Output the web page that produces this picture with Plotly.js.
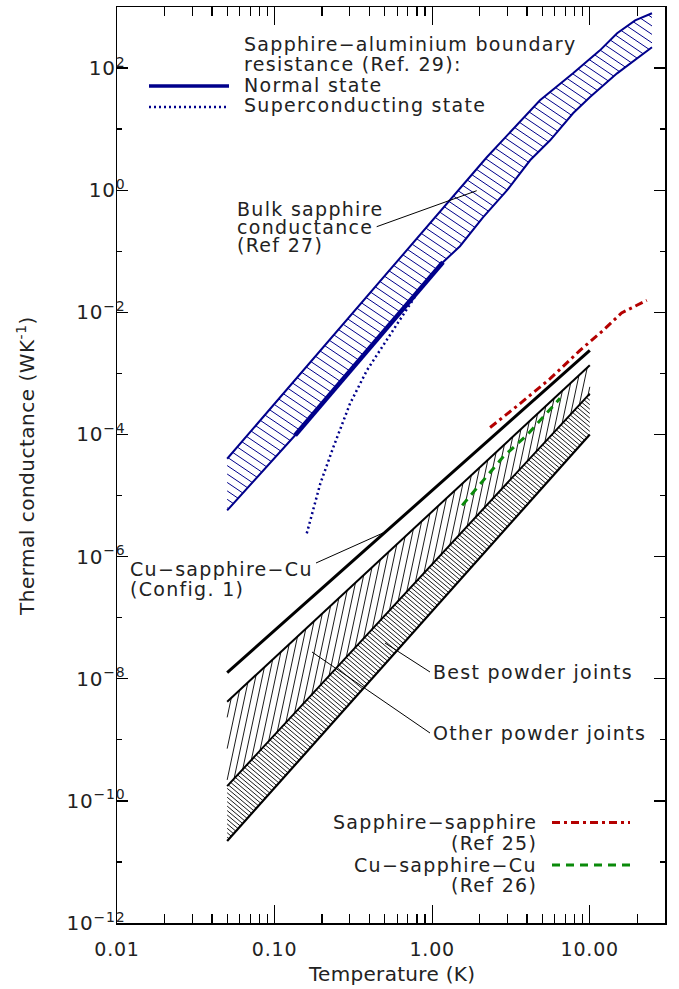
<!DOCTYPE html>
<html>
<head>
<meta charset="utf-8">
<script src="https://cdn.plot.ly/plotly-3.0.1.min.js"></script>
<style>
  html, body { margin: 0; padding: 0; background: #fff; }
  #chart { width: 679px; height: 989px; }
  .annotation-text { letter-spacing: 1.3px; }
  .xtick text, .ytick text { letter-spacing: 0.8px; }
</style>
</head>
<body>
<div id="chart"></div>
<script>
// ---------------- data ----------------
// Bulk sapphire conductance (Ref 27) band
const bulkUpperT = [0.05, 0.88, 2.22, 4.83, 7.83, 11.6, 14.9, 19.4, 24.8];
const bulkUpperG = [4.0e-5, 0.22, 3.46, 29.7, 82, 195, 371, 605, 789];
const bulkLowerT = [0.05, 0.135, 1.17, 1.50, 2.10, 2.99, 4.18, 5.60, 7.83, 10.0, 14.9, 20.0, 24.8];
const bulkLowerG = [5.7e-6, 9.7e-5, 0.066, 0.121, 0.36, 1.0, 3.09, 6.56, 18.2, 33.3, 82, 145, 219];

// Sapphire-aluminium boundary resistance (Ref. 29)
const normalT = [0.135, 0.405, 1.17];
const normalG = [9.7e-5, 2.7e-3, 0.066];
const superT = [0.160, 0.195, 0.236, 0.301, 0.385, 0.515, 0.656, 0.798];
const superG = [2.4e-6, 1.57e-5, 6.2e-5, 3.2e-4, 1.12e-3, 3.5e-3, 9.5e-3, 0.020];

// Cu-sapphire-Cu (Config. 1)
const config1T = [0.05, 10];
const config1G = [1.26e-8, 2.39e-3];

// Powder joints
const bestUpperT = [0.05, 10];
const bestUpperG = [4.2e-9, 1.36e-3];
const otherUpperT = [0.05, 10];
const otherUpperG = [1.74e-10, 4.67e-4];
const otherLowerT = [0.05, 10];
const otherLowerG = [2.2e-11, 1.0e-4];

// Sapphire-sapphire (Ref 25)
const ref25T = [2.33, 3.61, 5.60, 8.67, 12.2, 15.9, 23.0];
const ref25G = [1.30e-4, 3.2e-4, 8.2e-4, 2.39e-3, 5.1e-3, 9.8e-3, 0.0157];

// Cu-sapphire-Cu (Ref 26)
const ref26T = [1.55, 2.82, 3.98, 5.33, 6.47];
const ref26G = [6.9e-6, 4.3e-5, 9.7e-5, 2.2e-4, 3.9e-4];

// tick labels
const xTickVals = [0.01, 0.1, 1, 10];
const xTickText = ['0.01', '0.10', '1.00', '10.00'];
const yTickExp = [-12, -10, -8, -6, -4, -2, 0, 2];
const yTickVals = yTickExp.map(e => Math.pow(10, e));
const yTickText = yTickExp.map(e => '10<sup>' + (e < 0 ? '\u2212' + (-e) : e) + '</sup>');

// ---------------- helpers ----------------
const NAVY = '#00008b';
const RED = '#b40000';
const GREEN = '#0a8a0a';
const BLACK = '#000000';
const TXT = '#222222';
const FONT = 'DejaVu Sans';
const XR = [-2, Math.log10(30)];
const YR = [-12, 3];
const PLOT_W = 548, PLOT_H = 916;
const KX = PLOT_W / (XR[1] - XR[0]);
const KY = PLOT_H / (YR[1] - YR[0]);

const xMinor = [];
[0.01, 0.1, 1, 10].forEach(d => { for (let k = 2; k <= 9; k++) { const v = d * k; if (v < 30) xMinor.push(v); } });
const yMinor = [];
for (let e = -11; e <= 1; e += 2) yMinor.push(Math.pow(10, e));

function poly(tU, gU, tL, gL) {
  return { x: tU.concat(tL.slice().reverse()), y: gU.concat(gL.slice().reverse()) };
}

// Hatch lines clipped to a band polygon (computed from the band's own data,
// in the axes' log space scaled to screen proportions so the angle is true).
function hatch(tU, gU, tL, gL, angleDeg, spacingPx) {
  const p = poly(tU, gU, tL, gL);
  const X = p.x.map(v => (Math.log10(v) - XR[0]) * KX);
  const Y = p.y.map(v => (YR[1] - Math.log10(v)) * KY);
  const a = angleDeg * Math.PI / 180;
  const d = [Math.cos(a), -Math.sin(a)];
  const n = [Math.sin(a), Math.cos(a)];
  const s = X.map((x, i) => x * n[0] + Y[i] * n[1]);
  const smin = Math.min.apply(null, s), smax = Math.max.apply(null, s);
  const ox = [], oy = [];
  const m = X.length;
  for (let c = smin + spacingPx / 2; c < smax; c += spacingPx) {
    const hits = [];
    for (let i = 0; i < m; i++) {
      const j = (i + 1) % m;
      const si = s[i], sj = s[j];
      if ((si - c) * (sj - c) < 0) {
        const t = (c - si) / (sj - si);
        const hx = X[i] + t * (X[j] - X[i]);
        const hy = Y[i] + t * (Y[j] - Y[i]);
        hits.push({ u: hx * d[0] + hy * d[1], x: hx, y: hy });
      }
    }
    hits.sort((A, B) => A.u - B.u);
    for (let k = 0; k + 1 < hits.length; k += 2) {
      [hits[k], hits[k + 1]].forEach(h => {
        ox.push(Math.pow(10, h.x / KX + XR[0]));
        oy.push(Math.pow(10, YR[1] - h.y / KY));
      });
      ox.push(null); oy.push(null);
    }
  }
  return {
    type: 'scatter', mode: 'lines', x: ox, y: oy, connectgaps: false,
    hoverinfo: 'skip', showlegend: false
  };
}
function withLine(tr, color, width) { tr.line = { color: color, width: width }; return tr; }

function line(t, g, color, width, dash) {
  return {
    type: 'scatter', mode: 'lines', x: t, y: g,
    line: { color: color, width: width, dash: dash || 'solid' },
    hoverinfo: 'skip', showlegend: false
  };
}

// plot area in pixels: left 117, right 665, top 7, bottom 923
function PX(px) { return (px - 117) / PLOT_W; }
function PY(py) { return (923 - py) / PLOT_H; }

const traces = [
  withLine(hatch(bulkUpperT, bulkUpperG, bulkLowerT, bulkLowerG, -34, 7), NAVY, 1),
  withLine(hatch(bestUpperT, bestUpperG, otherUpperT, otherUpperG, 78, 6.5), BLACK, 0.9),
  withLine(hatch(otherUpperT, otherUpperG, otherLowerT, otherLowerG, -40, 3.4), BLACK, 0.9),
  line(bulkUpperT, bulkUpperG, NAVY, 2),
  line(bulkLowerT, bulkLowerG, NAVY, 2),
  line(normalT, normalG, NAVY, 4.5),
  line(superT, superG, NAVY, 2.5, '2px,3px'),
  line(config1T, config1G, BLACK, 3),
  line(bestUpperT, bestUpperG, BLACK, 2),
  line(otherUpperT, otherUpperG, BLACK, 2),
  line(otherLowerT, otherLowerG, BLACK, 2.2),
  line(ref25T, ref25G, RED, 3, '8px,4px,3px,4px'),
  line(ref26T, ref26G, GREEN, 3, '8px,6px'),
  { type: 'scatter', mode: 'markers', x: [], y: [], xaxis: 'x2', yaxis: 'y2', hoverinfo: 'skip', showlegend: false }
];

function ann(text, px, py, xanchor, size, angle) {
  return {
    text: text, xref: 'paper', yref: 'paper', x: PX(px), y: PY(py),
    xanchor: xanchor || 'left', yanchor: 'middle', showarrow: false,
    textangle: angle || 0,
    font: { family: FONT, size: size || 19, color: TXT }, borderpad: 0
  };
}
function seg(x0, y0, x1, y1, color, width, dash) {
  return {
    type: 'line', xref: 'paper', yref: 'paper',
    x0: PX(x0), y0: PY(y0), x1: PX(x1), y1: PY(y1),
    line: { color: color, width: width, dash: dash || 'solid' }
  };
}

const annotations = [
  ann('Sapphire\u2212aluminium boundary', 243, 44),
  ann('resistance (Ref. 29):', 243, 64),
  ann('Normal state', 243, 85),
  ann('Superconducting state', 243, 105),
  ann('Bulk sapphire', 236, 208.5),
  ann('conductance', 236, 226.5),
  ann('(Ref 27)', 236, 244.5),
  ann('Cu\u2212sapphire\u2212Cu', 129, 569),
  ann('(Config. 1)', 129, 588.5),
  ann('Best powder joints', 432, 672),
  ann('Other powder joints', 432, 732.5),
  ann('Sapphire\u2212sapphire', 538, 821.5, 'right'),
  ann('(Ref 25)', 538, 843, 'right'),
  ann('Cu\u2212sapphire\u2212Cu', 538, 865, 'right'),
  ann('(Ref 26)', 538, 885, 'right'),
  ann('<span style="letter-spacing:0.3px">Temperature (K)</span>', 391, 974, 'center', 20),
  ann('<span style="letter-spacing:0.5px">Thermal conductance (WK<sup>-1</sup>)</span>', 26, 466, 'center', 20, -90)
];

const shapes = [
  seg(149, 86, 229, 86, NAVY, 3.5),
  seg(149, 107, 229, 107, NAVY, 2.5, '2px,3px'),
  seg(552, 822.5, 630, 822.5, RED, 3, '8px,4px,3px,4px'),
  seg(552, 865, 632, 865, GREEN, 3, '8px,6px'),
  seg(376.7, 226.7, 476.7, 190.7, BLACK, 1),
  seg(316, 563, 383, 533, BLACK, 1),
  seg(385, 643, 430, 672, BLACK, 1),
  seg(312, 652, 430, 733, BLACK, 1)
];

const TW = 1.3;
const layout = {
  width: 679, height: 989,
  margin: { l: 117, r: 14, t: 7, b: 66 },
  paper_bgcolor: 'white', plot_bgcolor: 'white',
  showlegend: false,
  font: { family: FONT, size: 18, color: TXT },
  xaxis: {
    type: 'log', range: XR.slice(), autorange: false,
    tickmode: 'array', tickvals: xTickVals, ticktext: xTickText,
    ticks: 'inside', ticklen: 18, tickwidth: TW, tickcolor: BLACK,
    showline: true, linecolor: BLACK, linewidth: 1.5, mirror: 'ticks',
    showgrid: false, zeroline: false, ticklabelstandoff: 9,
    tickfont: { family: FONT, size: 19, color: TXT }
  },
  yaxis: {
    type: 'log', range: YR.slice(), autorange: false,
    tickmode: 'array', tickvals: yTickVals, ticktext: yTickText,
    ticks: 'inside', ticklen: 11, tickwidth: TW, tickcolor: BLACK,
    showline: true, linecolor: BLACK, linewidth: 1.5, mirror: 'ticks',
    showgrid: false, zeroline: false, ticklabelstandoff: -14,
    tickfont: { family: FONT, size: 20, color: TXT }
  },
  xaxis2: {
    type: 'log', range: XR.slice(), autorange: false, overlaying: 'x', anchor: 'y2', side: 'bottom',
    tickmode: 'array', tickvals: xMinor, showticklabels: false,
    ticks: 'inside', ticklen: 9, tickwidth: TW, tickcolor: BLACK,
    showline: true, linecolor: BLACK, linewidth: 1.5, mirror: 'ticks', showgrid: false, zeroline: false
  },
  yaxis2: {
    type: 'log', range: YR.slice(), autorange: false, overlaying: 'y', anchor: 'x2', side: 'left',
    tickmode: 'array', tickvals: yMinor, showticklabels: false,
    ticks: 'inside', ticklen: 5, tickwidth: TW, tickcolor: BLACK,
    showline: true, linecolor: BLACK, linewidth: 1.5, mirror: 'ticks', showgrid: false, zeroline: false
  },
  annotations: annotations,
  shapes: shapes
};

Plotly.newPlot('chart', traces, layout, { staticPlot: true, displayModeBar: false });
</script>
</body>
</html>
